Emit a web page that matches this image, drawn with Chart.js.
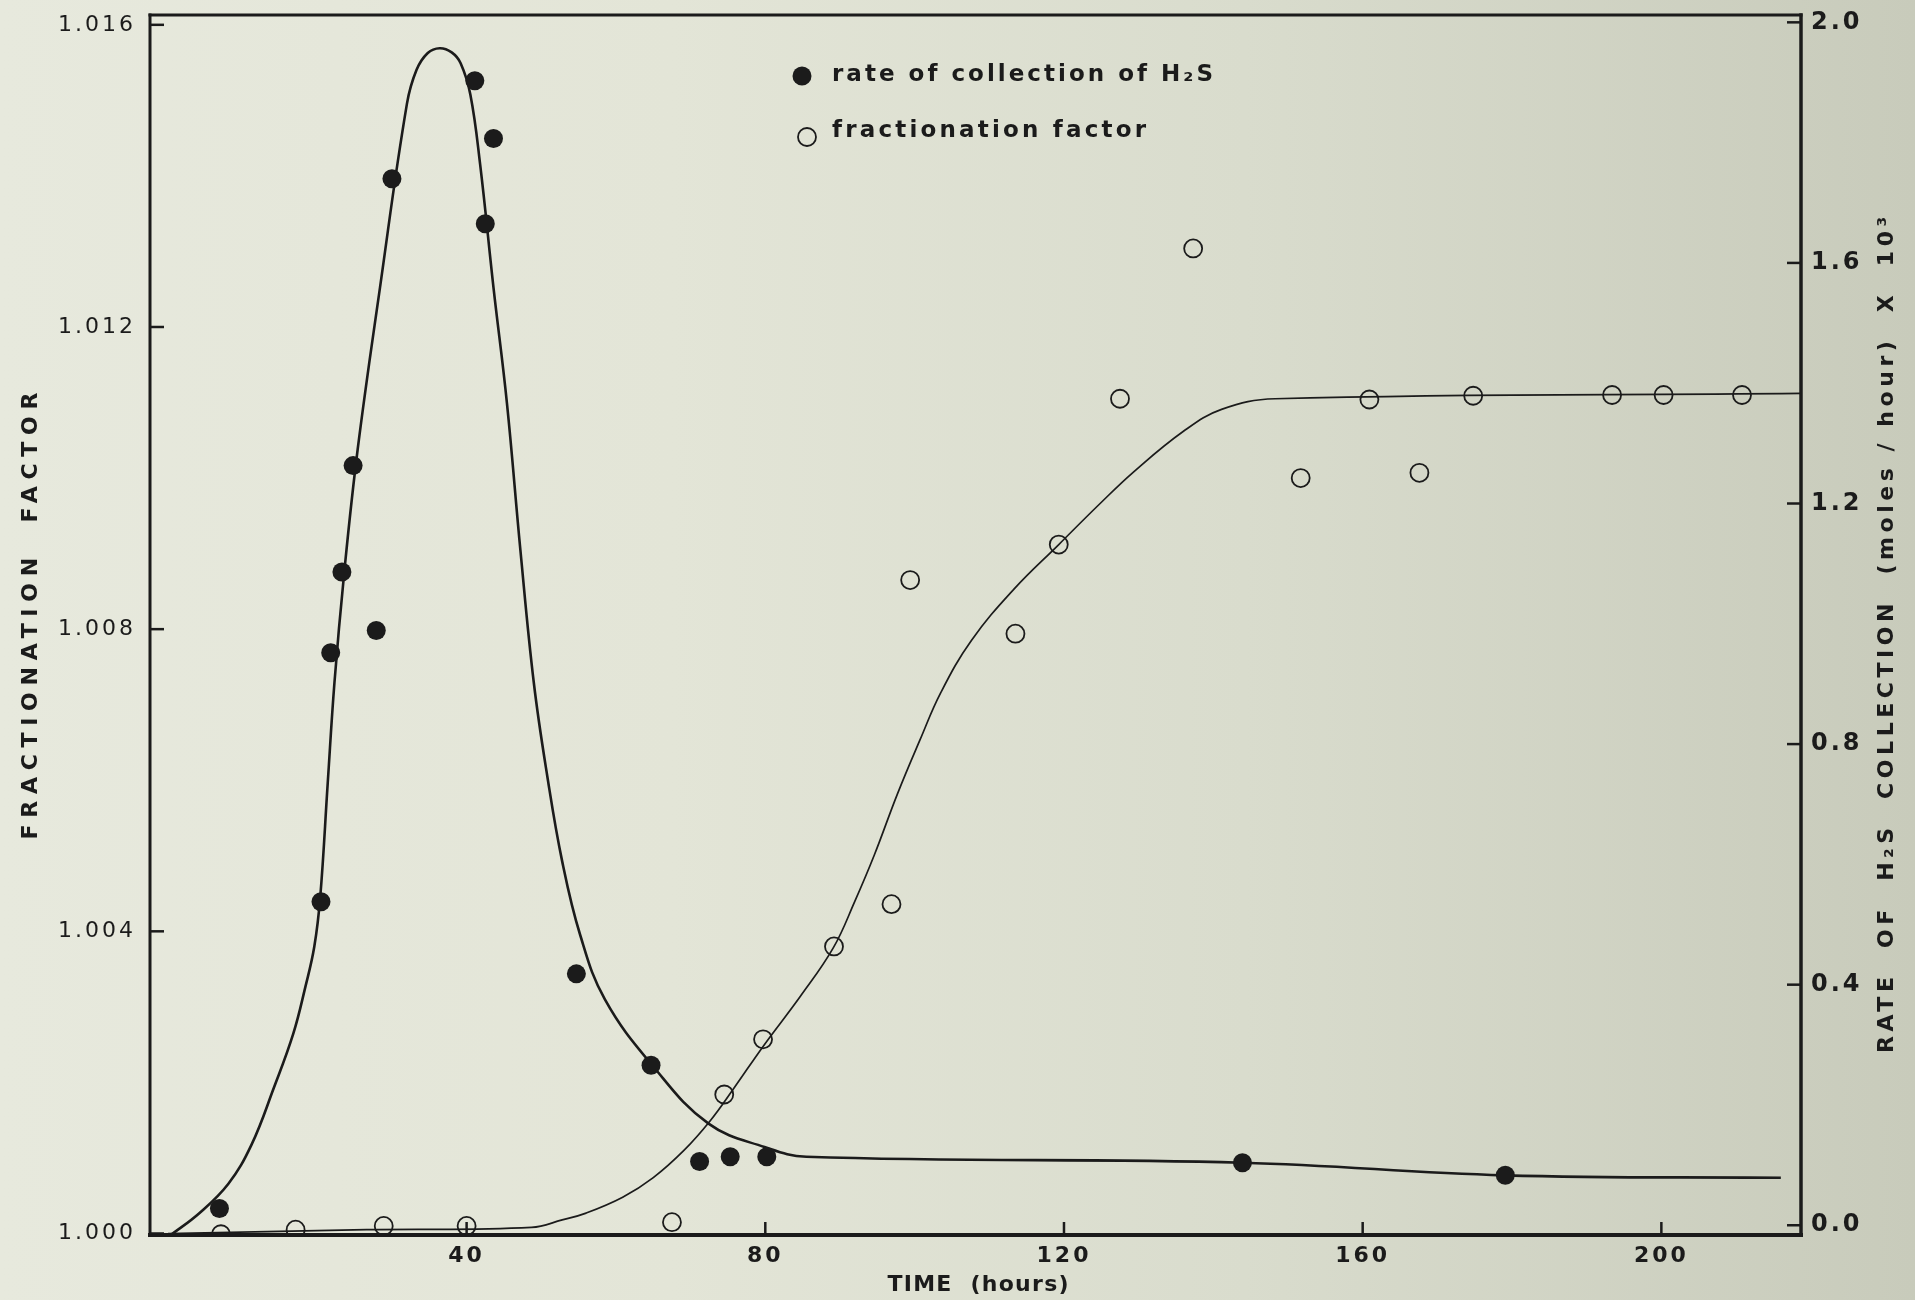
<!DOCTYPE html>
<html>
<head>
<meta charset="utf-8">
<script src="https://cdn.jsdelivr.net/npm/chart.js@4.4.1/dist/chart.umd.min.js"></script>
<style>
  html, body { margin: 0; padding: 0; }
  body {
    width: 1915px; height: 1300px; overflow: hidden;
    background: linear-gradient(90deg, #e7e9dd 0%, #e3e5d7 35%, #d9dccd 65%, #c8cbbb 100%);
  }
  #wrap { position: relative; width: 1915px; height: 1300px; }
</style>
</head>
<body>
<div id="wrap"><canvas id="c"></canvas></div>
<script>
// ---------- data ----------
const xTickValues = [40, 80, 120, 160, 200];
const xTickLabels = ['40', '80', '120', '160', '200'];
const leftTickValues = [1.000, 1.004, 1.008, 1.012, 1.016];
const leftTickLabels = ['1.000', '1.004', '1.008', '1.012', '1.016'];
const rightTickValues = [0.0, 0.4, 0.8, 1.2, 1.6, 2.0];
const rightTickLabels = ['0.0', '0.4', '0.8', '1.2', '1.6', '2.0'];

// rate of collection of H2S (right axis, moles/hour x 10^3)
const rateHours  = [6.9, 20.5, 21.8, 23.3, 24.8, 27.9, 30.0, 41.1, 42.5, 43.6, 54.7, 64.7, 71.2, 75.3, 80.2, 143.9, 179.1];
const rateValues = [0.028, 0.538, 0.952, 1.086, 1.263, 0.989, 1.740, 1.903, 1.665, 1.807, 0.418, 0.266, 0.106, 0.114, 0.114, 0.104, 0.083];

// fractionation factor (left axis)
const fracHours  = [7.1, 17.1, 28.9, 40.0, 67.5, 74.5, 79.7, 89.2, 96.9, 99.4, 113.5, 119.3, 127.5, 137.3, 151.7, 160.9, 167.6, 174.8, 193.4, 200.3, 210.8];
const fracValues = [0.99999, 1.00005, 1.0001, 1.0001, 1.00015, 1.00184, 1.00257, 1.0038, 1.00436, 1.00865, 1.00794, 1.00912, 1.01105, 1.01304, 1.0100, 1.01104, 1.01007, 1.01109, 1.0111, 1.0111, 1.0111];

// hand-drawn fitted curves
const rateCurveHours  = [0.4, 4.2, 8.1, 11.2, 14.2, 16.8, 18.4, 19.6, 20.4, 21.4, 22.3, 23.6, 25.4, 28.4, 32.0, 33.3, 34.8, 36.4, 38.0, 39.2, 40.5, 41.8, 43.6, 45.4, 47.2, 49.0, 50.8, 52.8, 55.2, 58.5, 65.0, 72.4, 79.9, 85.5, 143.9, 179.0, 216.0];
const rateCurveValues = [-0.016, 0.020, 0.069, 0.134, 0.229, 0.319, 0.396, 0.463, 0.546, 0.735, 0.902, 1.084, 1.289, 1.559, 1.864, 1.921, 1.949, 1.957, 1.950, 1.932, 1.880, 1.765, 1.559, 1.367, 1.123, 0.902, 0.747, 0.605, 0.483, 0.376, 0.264, 0.169, 0.130, 0.114, 0.104, 0.083, 0.079];

const fracCurveHours  = [0, 26.6, 48.7, 52.8, 56.0, 60.9, 65.0, 69.1, 72.6, 75.7, 79.8, 84.7, 89.1, 92.0, 94.6, 97.7, 100.7, 103.5, 107.6, 113.3, 119.3, 124.7, 129.3, 136.0, 141.1, 148.3, 218.7];
const fracCurveValues = [1.00000, 1.00005, 1.00008, 1.00018, 1.00027, 1.00048, 1.00074, 1.00110, 1.00149, 1.00191, 1.00249, 1.00314, 1.00378, 1.00440, 1.00501, 1.00582, 1.00653, 1.00716, 1.00785, 1.00853, 1.00912, 1.00965, 1.01008, 1.01062, 1.01091, 1.01105, 1.01112];

const seriesLabels = ['rate of collection of H\u2082S', 'fractionation factor'];

// ---------- helpers ----------
const INK = '#1b1b1b';
const zip = (xs, ys) => xs.map((x, i) => ({ x: x, y: ys[i] }));

function drawSpaced(ctx, text, x, y, width) {
  const hasLS = ('letterSpacing' in ctx);
  if (hasLS) ctx.letterSpacing = '0px';
  const w0 = ctx.measureText(text).width;
  const n = Array.from(text).length;
  const sp = n > 1 ? (width - w0) / (n - 1) : 0;
  ctx.textAlign = 'left';
  if (hasLS) {
    ctx.letterSpacing = sp.toFixed(2) + 'px';
    ctx.fillText(text, x, y);
    ctx.letterSpacing = '0px';
  } else {
    let cx = x;
    for (const ch of Array.from(text)) {
      ctx.fillText(ch, cx, y);
      cx += ctx.measureText(ch).width + sp;
    }
  }
}

const decorPlugin = {
  id: 'decor',
  beforeDraw(chart) {
    const ctx = chart.ctx;
    if ('letterSpacing' in ctx) ctx.letterSpacing = '3px';
  },
  afterDraw(chart, args, opts) {
    const ctx = chart.ctx;
    const { left, right, top, bottom } = chart.chartArea;
    ctx.save();
    if ('letterSpacing' in ctx) ctx.letterSpacing = '0px';
    ctx.strokeStyle = INK;
    ctx.fillStyle = INK;
    ctx.lineCap = 'square';
    const seg = (x1, y1, x2, y2, w) => {
      ctx.lineWidth = w;
      ctx.beginPath(); ctx.moveTo(x1, y1); ctx.lineTo(x2, y2); ctx.stroke();
    };
    // frame
    seg(left, top, right, top, 3);
    seg(left, top, left, bottom, 3);
    seg(left, bottom, right, bottom, 4);
    seg(right, top, right, bottom, 3.5);
    // inward tick marks
    const xs = chart.scales.x, yl = chart.scales.y, yr = chart.scales.y1;
    ctx.lineCap = 'butt';
    xs.ticks.forEach(t => { const p = xs.getPixelForValue(t.value); seg(p, bottom, p, bottom - 13, 2.5); });
    yl.ticks.forEach(t => { const p = yl.getPixelForValue(t.value); seg(left, p, left + 14, p, 2.5); });
    yr.ticks.forEach(t => { const p = yr.getPixelForValue(t.value); seg(right, p, right - 14, p, 2.5); });

    // legend (inside plot area)
    const lg = opts.legend;
    lg.rows.forEach(row => {
      const ds = chart.data.datasets[row.dataset];
      ctx.beginPath();
      ctx.arc(row.mx, row.my, ds.pointRadius, 0, Math.PI * 2);
      if (ds.pointBorderWidth === 0) {
        ctx.fillStyle = ds.pointBackgroundColor; ctx.fill();
      } else {
        ctx.lineWidth = ds.pointBorderWidth; ctx.strokeStyle = ds.pointBorderColor; ctx.stroke();
      }
      ctx.fillStyle = INK;
      ctx.font = lg.font;
      ctx.textBaseline = 'middle';
      drawSpaced(ctx, ds.label, lg.textX, row.ty, row.width);
    });

    // axis titles
    ctx.fillStyle = INK;
    ctx.textBaseline = 'middle';
    opts.titles.forEach(tt => {
      ctx.save();
      ctx.font = tt.font;
      ctx.translate(tt.cx, tt.cy);
      ctx.rotate(tt.rotation || 0);
      drawSpaced(ctx, tt.text, -tt.length / 2, 0, tt.length);
      ctx.restore();
    });
    ctx.restore();
  }
};

const tickFontLeft = { family: 'DejaVu Sans', size: 22, weight: 'normal' };
const tickFontRight = { family: 'DejaVu Sans', size: 24, weight: 'bold' };
const tickFontX = { family: 'DejaVu Sans', size: 22, weight: 'bold' };

const noPadY = s => { s.paddingTop = 0; s.paddingBottom = 0; };

new Chart(document.getElementById('c'), {
  type: 'scatter',
  data: {
    datasets: [
      {
        label: seriesLabels[0],
        data: zip(rateHours, rateValues),
        yAxisID: 'y1',
        pointRadius: 9.5,
        pointBackgroundColor: INK,
        pointBorderColor: INK,
        pointBorderWidth: 0,
        showLine: false,
        order: 0
      },
      {
        label: seriesLabels[1],
        data: zip(fracHours, fracValues),
        yAxisID: 'y',
        pointRadius: 9,
        pointBackgroundColor: 'rgba(0,0,0,0)',
        pointBorderColor: INK,
        pointBorderWidth: 1.8,
        showLine: false,
        order: 0
      },
      {
        label: 'rate curve',
        data: zip(rateCurveHours, rateCurveValues),
        yAxisID: 'y1',
        showLine: true,
        pointRadius: 0,
        borderColor: INK,
        borderWidth: 2.6,
        tension: 0.4,
        fill: false,
        order: 1
      },
      {
        label: 'fractionation curve',
        data: zip(fracCurveHours, fracCurveValues),
        yAxisID: 'y',
        showLine: true,
        pointRadius: 0,
        borderColor: INK,
        borderWidth: 1.7,
        tension: 0.4,
        fill: false,
        order: 1
      }
    ]
  },
  options: {
    responsive: true,
    maintainAspectRatio: false,
    animation: false,
    events: [],
    layout: { padding: { top: 15, left: 0, right: 0, bottom: 0 } },
    plugins: {
      legend: { display: false },
      tooltip: { enabled: false },
      decor: {
        legend: {
          font: 'bold 23px "DejaVu Sans"',
          textX: 832,
          rows: [
            { dataset: 0, mx: 802, my: 76, ty: 75, width: 381 },
            { dataset: 1, mx: 807, my: 137, ty: 131, width: 314 }
          ]
        },
        titles: [
          { text: 'TIME  (hours)', font: 'bold 22px "DejaVu Sans"', cx: 978, cy: 1285, length: 181, rotation: 0 },
          { text: 'FRACTIONATION  FACTOR', font: 'bold 22px "DejaVu Sans"', cx: 31, cy: 616, length: 447, rotation: -Math.PI / 2 },
          { text: 'RATE  OF  H\u2082S  COLLECTION  (moles / hour)  X  10\u00B3', font: 'bold 22px "DejaVu Sans"', cx: 1887, cy: 635, length: 836, rotation: -Math.PI / 2 }
        ]
      }
    },
    scales: {
      x: {
        type: 'linear',
        position: 'bottom',
        min: -2.4,
        max: 218.7,
        afterBuildTicks: s => { s.ticks = xTickValues.map(v => ({ value: v })); },
        afterFit: s => { s.height = 65; s.paddingLeft = 0; s.paddingRight = 0; },
        grid: { display: false, drawTicks: false },
        border: { display: false },
        ticks: {
          color: INK, font: tickFontX, padding: 8, maxRotation: 0, autoSkip: false,
          callback: v => xTickLabels[xTickValues.indexOf(v)]
        }
      },
      y: {
        type: 'linear',
        position: 'left',
        min: 0.99998,
        max: 1.01613,
        afterBuildTicks: s => { s.ticks = leftTickValues.map(v => ({ value: v })); },
        afterFit: s => { s.width = 150; noPadY(s); },
        grid: { display: false, drawTicks: false },
        border: { display: false },
        ticks: {
          color: INK, font: tickFontLeft, padding: 14, autoSkip: false,
          callback: v => leftTickLabels[leftTickValues.indexOf(v)]
        }
      },
      y1: {
        type: 'linear',
        position: 'right',
        min: -0.0162,
        max: 2.0122,
        afterBuildTicks: s => { s.ticks = rightTickValues.map(v => ({ value: v })); },
        afterFit: s => { s.width = 114; noPadY(s); },
        grid: { display: false, drawTicks: false },
        border: { display: false },
        ticks: {
          color: INK, font: tickFontRight, padding: 10, autoSkip: false,
          callback: v => rightTickLabels[rightTickValues.indexOf(v)]
        }
      }
    }
  },
  plugins: [decorPlugin]
});
</script>
</body>
</html>
